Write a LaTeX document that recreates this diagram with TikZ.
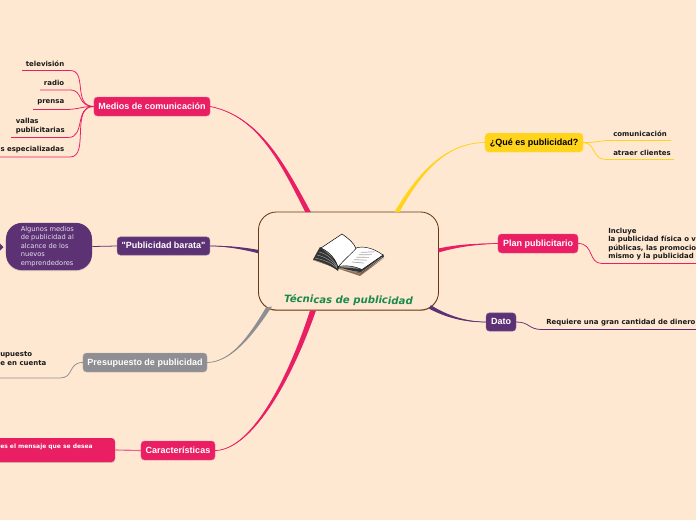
\documentclass[tikz,border=0pt]{standalone}
\usepackage{fontspec}
\setmainfont{DejaVu Sans}
\newfontfamily\boxfont{Liberation Sans}
\usepackage{xcolor}
\definecolor{mmpeach}{RGB}{255,232,210}
\definecolor{mmpink}{RGB}{233,30,99}
\definecolor{mmpurple}{RGB}{92,50,116}
\definecolor{mmgray}{RGB}{142,142,147}
\definecolor{mmyellow}{RGB}{255,212,26}
\definecolor{mmgreen}{RGB}{26,138,74}
\definecolor{mmbrown}{RGB}{104,56,16}
\usepackage{tikz}
\usetikzlibrary{calc, shadows}
\tikzset{
  topicbox/.style={rounded corners=2.5pt, inner sep=0pt, text height=4.8pt, text depth=1.2pt, font=\boxfont\fontsize{6.4}{7}\selectfont\bfseries, text=white},
  leaftext/.style={inner sep=0pt, font=\fontsize{4.95}{6.1}\selectfont\bfseries, text=black!90, align=left},
  leafline/.style={line width=0.55pt}
}
% tapered branch: colour, thin end, two controls, thick end, half width vector
\newcommand{\taperbranch}[6]{
  \fill[#1] (#2) .. controls ($(#3)+0.33*(#6)$) and ($(#4)+0.66*(#6)$) .. ($(#5)+(#6)$) -- ($(#5)-(#6)$) .. controls ($(#4)-0.66*(#6)$) and ($(#3)-0.33*(#6)$) .. (#2) -- cycle;
  \draw[#1, line width=0.5pt] (#2) .. controls (#3) and (#4) .. (#5);
}
\begin{document}
\begin{tikzpicture}[x=0.025cm, y=-0.025cm]
  \clip (0,0) rectangle (696,520);
  \fill[mmpeach] (0,0) rectangle (696,520);

  % Central topic
  \node[draw=mmbrown, fill=mmpeach, line width=0.6pt, rounded corners=0.45cm, minimum width=4.5cm, minimum height=2.45cm, inner sep=0pt,
        drop shadow={shadow xshift=0pt, shadow yshift=-0.6pt, fill=mmbrown!55!mmpeach, opacity=1}] (central) at (348.5,261) {};
  \node[font=\fontsize{7.2}{8}\selectfont\bfseries\itshape, text=mmgreen, inner sep=0pt, rotate=-0.8] (title) at (348.5,300.5) {Técnicas de publicidad};

  % Main topics
  \node[topicbox, fill=mmpink, draw=mmpink!75!white, line width=0.3pt, minimum width=2.9cm, minimum height=0.475cm] (medios) at (152,106.5) {Medios de comunicación};
  \node[topicbox, fill=mmpurple, draw=mmpurple!75!white, line width=0.3pt, minimum width=2.32cm, minimum height=0.46cm] (barata) at (163.5,246) {"Publicidad barata"};
  \node[topicbox, fill=mmgray, draw=mmgray!75!white, line width=0.3pt, minimum width=3.1cm, minimum height=0.475cm] (presupuesto) at (145,362.5) {Presupuesto de publicidad};
  \node[topicbox, fill=mmpink, draw=mmpink!75!white, line width=0.3pt, minimum width=1.85cm, minimum height=0.475cm] (caract) at (178,450.5) {Características};
  \node[topicbox, fill=mmyellow, draw=mmyellow!75!white, line width=0.3pt, text=black, minimum width=2.45cm, minimum height=0.475cm] (que) at (534,142.5) {¿Qué es publicidad?};
  \node[topicbox, fill=mmpink, draw=mmpink!75!white, line width=0.3pt, minimum width=2cm, minimum height=0.475cm] (plan) at (538,243.5) {Plan publicitario};
  \node[topicbox, fill=mmpurple, draw=mmpurple!75!white, line width=0.3pt, minimum width=0.75cm, minimum height=0.46cm] (dato) at (501,322) {Dato};

  % Side boxes
  \node[fill=mmpurple, rounded corners=0.4cm, minimum width=2.15cm, minimum height=1.18cm, inner sep=0pt,
        drop shadow={shadow xshift=0pt, shadow yshift=-0.7pt, opacity=0.35}] (algunos) at (49,246.5) {};
  \node[inner sep=0pt, anchor=west, align=left, text=white!85!mmpurple, font=\fontsize{4.75}{6.05}\selectfont] (algunostext) at (20.5,246.5)
    {Algunos medios\\de publicidad al\\alcance de los\\nuevos\\emprendedores};
  \node[fill=mmpink, rounded corners=2.5pt, minimum width=3.15cm, minimum height=0.6cm, inner sep=0pt,
        drop shadow={shadow xshift=0pt, shadow yshift=-0.7pt, opacity=0.35}] (mensaje) at (52,450) {};
  \node[inner sep=0pt, anchor=west, text=white, font=\fontsize{4.25}{5}\selectfont\bfseries] (mensajetext) at (0,446.5) {es el mensaje que se desea};
  \fill[mmpurple] (0,243.5) -- (3.5,247) -- (0,250.5) -- cycle;

  % Leaf texts
  \node[leaftext, anchor=east] (tele) at (64.5,63.5) {televisión};
  \node[leaftext, anchor=east] (radio) at (64.5,82.5) {radio};
  \node[leaftext, anchor=east] (prensa) at (64.5,102.5) {prensa};
  \node[leaftext, anchor=west] (vallas) at (15.5,126) {vallas\\publicitarias};
  \node[leaftext, anchor=east] (revistas) at (64.5,149.5) {s especializadas};
  \node[leaftext, anchor=west] (comunic) at (613,133.5) {comunicación};
  \node[leaftext, anchor=west] (atraer) at (613,152.5) {atraer clientes};
  \node[leaftext, anchor=west] (incluye) at (608,244) {Incluye\\la publicidad física o v\\públicas, las promocio\\mismo y la publicidad};
  \node[leaftext, anchor=west] (requiere) at (546,322.5) {Requiere una gran cantidad de dinero};
  \node[leaftext, anchor=west] (tener) at (0,358.5) {upuesto\\e en cuenta};

  % Underline ends
  \coordinate (teleA) at (22,70.5);   \coordinate (teleB) at (70,70.5);
  \coordinate (radioA) at (40,90);    \coordinate (radioB) at (70,90);
  \coordinate (prensaA) at (33,109.5); \coordinate (prensaB) at (66,109.5);
  \coordinate (vallasA) at (11,137.5); \coordinate (vallasB) at (68,137.5);
  \coordinate (revA) at (0,157);      \coordinate (revB) at (70,157);
  \coordinate (comA) at (671,140.5);  \coordinate (comB) at (610,140.5);
  \coordinate (atrA) at (674,159.5);  \coordinate (atrB) at (606,159.5);
  \coordinate (incA) at (696,263.5);  \coordinate (incB) at (602,263.5);
  \coordinate (reqA) at (696,329.5);  \coordinate (reqB) at (542,329.5);
  \coordinate (tenA) at (0,378);      \coordinate (tenB) at (60,378);

  % Leaf connectors
  \draw[mmpink, leafline] (teleA) -- (teleB) .. controls (88,70.5) and (72,106) .. (medios.west);
  \draw[mmpink, leafline] (radioA) -- (radioB) .. controls (84,90) and (76,106) .. (medios.west);
  \draw[mmpink, leafline] (prensaA) -- (prensaB) .. controls (78,109.5) and (84,106) .. (medios.west);
  \draw[mmpink, leafline] (vallasA) -- (vallasB) .. controls (86,137.5) and (74,106) .. (medios.west);
  \draw[mmpink, leafline] (revA) -- (revB) .. controls (90,157) and (70,106) .. (medios.west);
  \draw[mmyellow, leafline] (comA) -- (comB) .. controls (598,140.5) and (596,143) .. (que.east);
  \draw[mmyellow, leafline] (atrA) -- (atrB) .. controls (592,159.5) and (596,143) .. (que.east);
  \draw[mmpink, leafline] (incA) -- (incB) .. controls (588,263.5) and (594,243.5) .. (plan.east);
  \draw[mmpurple, leafline] (reqA) -- (reqB) .. controls (528,329.5) and (530,322) .. (dato.east);
  \draw[mmgray, leafline] (tenA) -- (tenB) .. controls (74,378) and (68,362.5) .. (presupuesto.west);
  \draw[mmpurple, leafline] (algunos.east) -- (barata.west);
  \draw[mmpink!70!white, line width=0.8pt] (mensaje.east) -- (caract.west);

  % Main branches
  \coordinate (rootMedios) at (308,212);
  \coordinate (rootBarata) at (258,251.5);
  \coordinate (rootPresu) at (269,307);
  \coordinate (rootCaract) at (313,310.5);
  \coordinate (rootQue) at (397,212);
  \coordinate (rootPlan) at (438.5,250.5);
  \coordinate (rootDato) at (430,307);
  \taperbranch{mmpink}{medios.east}{258,116}{282,162}{rootMedios}{2.8,0}
  \taperbranch{mmpurple}{barata.east}{228,246}{244,248.5}{rootBarata}{0,1.7}
  \taperbranch{mmgray}{presupuesto.east}{232,362}{252,334}{rootPresu}{3,-0.5}
  \taperbranch{mmpink}{caract.east}{250,450}{288,385}{rootCaract}{3,0}
  \taperbranch{mmyellow}{que.west}{446,143}{420,172}{rootQue}{2.5,0}
  \taperbranch{mmpink}{plan.west}{474,244}{456,246}{rootPlan}{0,2}
  \taperbranch{mmpurple}{dato.west}{464,322}{446,316}{rootDato}{0.8,-1.8}

  % Book
  \fill[black!75!mmbrown!40] (313,260) -- (360,275) -- (384,257) -- (372,250) -- (321,247) -- cycle;
  \fill[mmbrown!70!mmpeach] (312.5,260) -- (360,276) -- (384,258) -- (360,274) -- cycle;
  \fill[black!80] (320,247) .. controls (317,252) and (315,256) .. (313,259.5) .. controls (322,262) and (332,266) .. (338,271) -- (340,264) -- cycle;
  \fill[black!80] (338,267) -- (361,273.5) -- (384,256.5) -- (383,254) -- (362,269) -- cycle;
  \foreach \k in {0,1,2} {
    \draw[white!70!black, line width=0.25pt] ({315+\k*2},{258-\k*3}) .. controls ({324+\k*2},{260-\k*3}) and ({332+\k},{263-\k}) .. (337,{268-\k});
  }
  \draw[white!70!black, line width=0.25pt] (341,269) -- (361,272.5) -- (382,257);
  \filldraw[fill=white, draw=black, line width=0.3pt] (338,266.5) .. controls (344,258) and (352,252) .. (356,248) .. controls (362,246) and (372,247) .. (383,255) -- (362,269.5) .. controls (354,266) and (346,265) .. (338,266.5) -- cycle;
  \foreach \k in {0,1,2,3,4} {
    \draw[black!35, line width=0.5pt] ({352+\k*2.2},{262-\k*2.4}) -- ({364+\k*2.6},{263-\k*2.8});
  }
  \filldraw[fill=white, draw=black, line width=0.35pt] (321,248) -- (342,234) .. controls (348,238) and (354,243) .. (356,248.5) .. controls (351,254) and (344,260) .. (338,267) .. controls (336,260) and (330,252) .. (321,248) -- cycle;
\end{tikzpicture}
\end{document}
